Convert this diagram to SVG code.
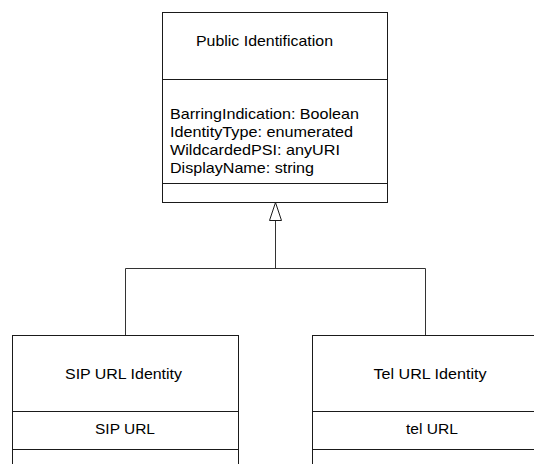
<svg xmlns="http://www.w3.org/2000/svg" width="534" height="464" viewBox="0 0 534 464">
<style>
.box{fill:#fff;stroke:#1a1a1a;stroke-width:1}
.div{stroke:#1a1a1a;stroke-width:1}
.t{font-family:"Liberation Sans",Arial,sans-serif;font-size:15px;fill:#000}
.c{fill:none;stroke:#333;stroke-width:1}
.head{fill:#fff;stroke:#1a1a1a;stroke-width:1}
</style>
<rect width="534" height="464" fill="#fff"/>
<g id="connectors">
<polyline class="c" points="125.5,335 125.5,268.5 425.5,268.5 425.5,335"/>
<line class="c" x1="275.5" y1="268.5" x2="275.5" y2="220"/>
<polygon class="head" points="275.5,202.5 269.5,220.5 281.5,220.5"/>
</g>
<g id="public-identification">
<rect class="box" x="162.5" y="12.5" width="225" height="190"/>
<line class="div" x1="162.5" y1="79.5" x2="387.5" y2="79.5"/>
<line class="div" x1="162.5" y1="183.5" x2="387.5" y2="183.5"/>
<text class="t" x="196" y="46" textLength="137" lengthAdjust="spacingAndGlyphs">Public Identification</text>
<text class="t" x="170" y="118.5" textLength="189" lengthAdjust="spacingAndGlyphs">BarringIndication: Boolean</text>
<text class="t" x="170" y="136.8" textLength="183" lengthAdjust="spacingAndGlyphs">IdentityType: enumerated</text>
<text class="t" x="170" y="155" textLength="170" lengthAdjust="spacingAndGlyphs">WildcardedPSI: anyURI</text>
<text class="t" x="170" y="173.3" textLength="144" lengthAdjust="spacingAndGlyphs">DisplayName: string</text>
</g>
<g id="sip-url-identity">
<rect class="box" x="12.5" y="335.5" width="226" height="140"/>
<line class="div" x1="12.5" y1="411.5" x2="238.5" y2="411.5"/>
<line class="div" x1="12.5" y1="449.5" x2="238.5" y2="449.5"/>
<text class="t" x="65" y="378.5" textLength="117" lengthAdjust="spacingAndGlyphs">SIP URL Identity</text>
<text class="t" x="95" y="434" textLength="60" lengthAdjust="spacingAndGlyphs">SIP URL</text>
</g>
<g id="tel-url-identity">
<rect class="box" x="312.5" y="335.5" width="240" height="140"/>
<line class="div" x1="312.5" y1="411.5" x2="552.5" y2="411.5"/>
<line class="div" x1="312.5" y1="449.5" x2="552.5" y2="449.5"/>
<text class="t" x="373.5" y="378.5" textLength="113" lengthAdjust="spacingAndGlyphs">Tel URL Identity</text>
<text class="t" x="406" y="434" textLength="52" lengthAdjust="spacingAndGlyphs">tel URL</text>
</g>
</svg>
